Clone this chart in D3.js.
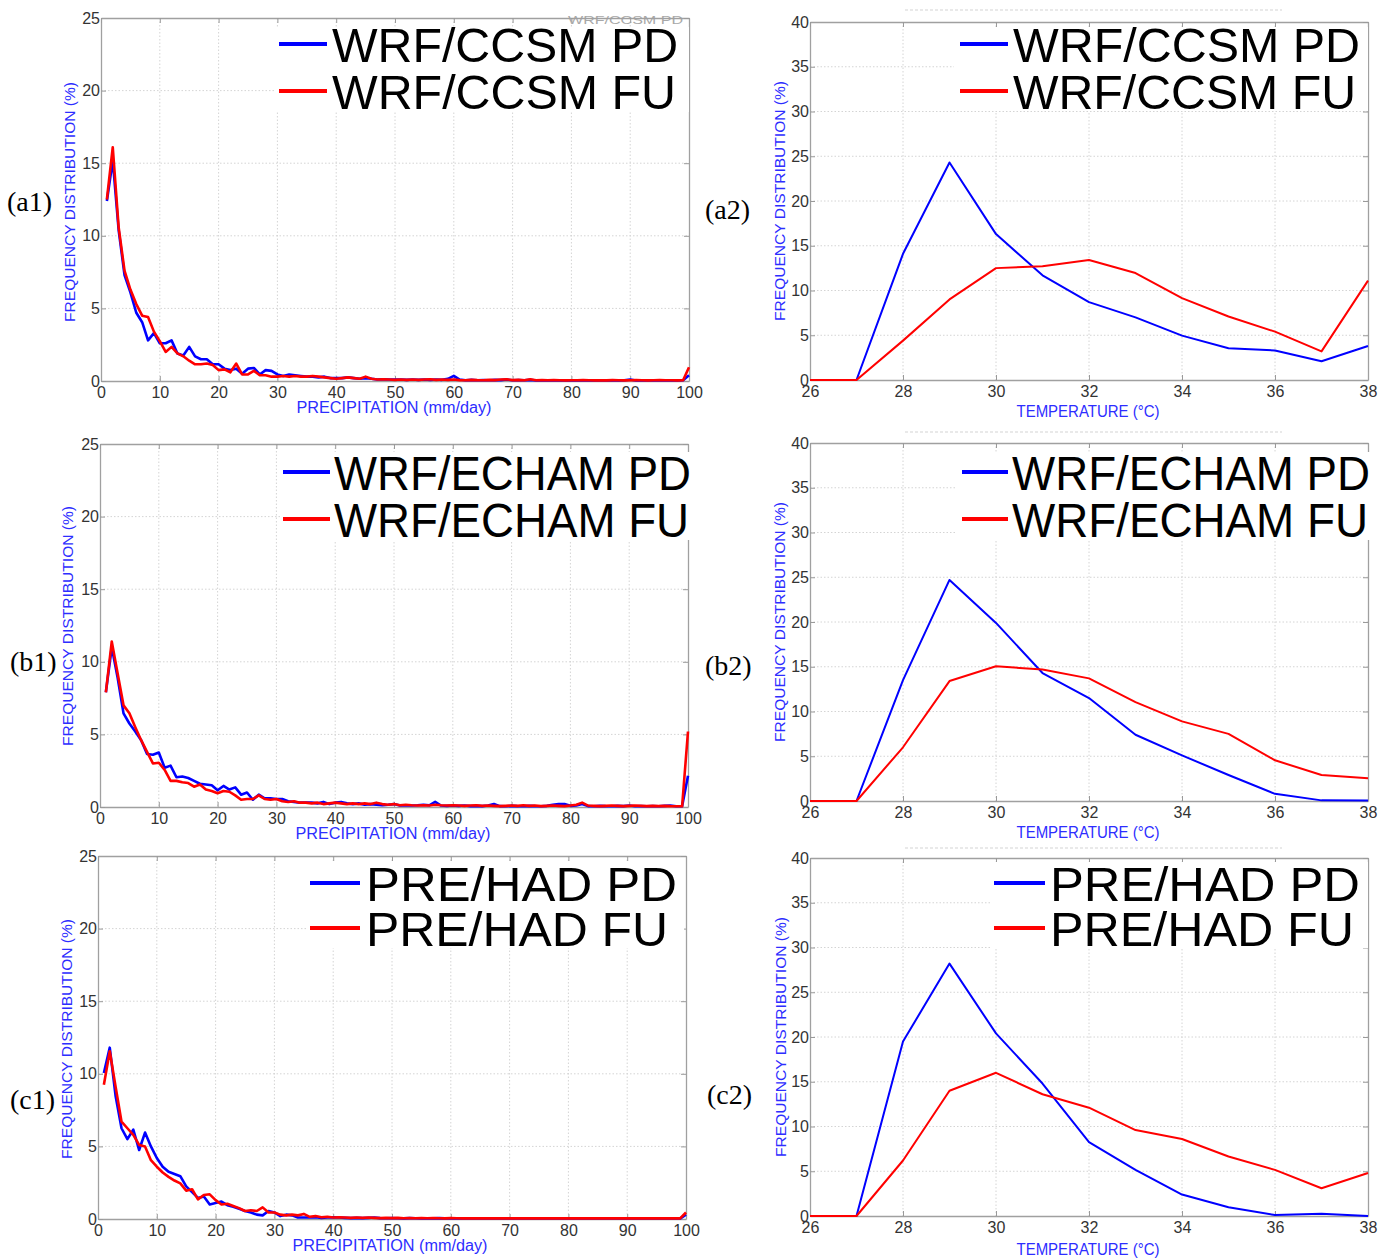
<!DOCTYPE html>
<html>
<head>
<meta charset="utf-8">
<script src="https://cdn.jsdelivr.net/npm/d3@7"></script>
<style>
  html, body { margin: 0; padding: 0; background: #ffffff; }
  svg { display: block; }
</style>
</head>
<body>
<svg id="fig" width="1394" height="1259"></svg>
<script>
// ---- categories ----
const precipBins = d3.range(1, 101);               // daily precipitation bins (mm/day)
const tempBins = [26, 27, 28, 29, 30, 31, 32, 33, 34, 35, 36, 37, 38]; // temperature bins (°C)
const precipTicks = [0, 10, 20, 30, 40, 50, 60, 70, 80, 90, 100];
const precipYTicks = [0, 5, 10, 15, 20, 25];
const tempTicks = [26, 28, 30, 32, 34, 36, 38];
const tempYTicks = [0, 5, 10, 15, 20, 25, 30, 35, 40];

// ---- WRF/CCSM precipitation frequency (%) ----
const ccsmPrecipPD = [12.4, 15.2, 10.4, 7.3, 6.1, 4.7, 4.05, 2.8, 3.3, 2.6, 2.6, 2.8, 1.9, 1.75, 2.35, 1.7, 1.5, 1.5, 1.15, 1.15, 0.85, 0.75, 0.85, 0.5, 0.85, 0.9, 0.45, 0.75, 0.7, 0.45, 0.35, 0.45, 0.4, 0.35, 0.3,
  0.30, 0.25, 0.30, 0.20, 0.20, 0.20, 0.25, 0.20, 0.15, 0.20,
  0.15, 0.10, 0.12, 0.10, 0.10, 0.10, 0.08, 0.10, 0.08, 0.10,
  0.08, 0.10, 0.08, 0.15, 0.35, 0.10, 0.05, 0.08, 0.05, 0.06,
  0.05, 0.08, 0.06, 0.10, 0.05, 0.06, 0.05, 0.08, 0.04, 0.05,
  0.04, 0.05, 0.04, 0.05, 0.04, 0.05, 0.04, 0.03, 0.05, 0.03,
  0.04, 0.03, 0.04, 0.05, 0.10, 0.03, 0.04, 0.03, 0.04, 0.05,
  0.03, 0.04, 0.03, 0.05, 0.40];
const ccsmPrecipFU = [12.5, 16.1, 10.6, 7.6, 6.3, 5.3, 4.5, 4.4, 3.4, 2.75, 2.0, 2.35, 1.9, 1.7, 1.4, 1.15, 1.15, 1.2, 1.1, 0.75, 0.8, 0.6, 1.2, 0.45, 0.45, 0.7, 0.4, 0.4, 0.3, 0.3, 0.35, 0.3, 0.35, 0.3, 0.3,
  0.35, 0.30, 0.25, 0.20, 0.15, 0.20, 0.25, 0.20, 0.15, 0.30,
  0.15, 0.10, 0.12, 0.10, 0.08, 0.10, 0.08, 0.10, 0.08, 0.10,
  0.12, 0.08, 0.10, 0.08, 0.10, 0.06, 0.05, 0.08, 0.06, 0.05,
  0.08, 0.06, 0.10, 0.12, 0.06, 0.08, 0.05, 0.12, 0.05, 0.06,
  0.05, 0.06, 0.05, 0.04, 0.05, 0.05, 0.06, 0.05, 0.04, 0.05,
  0.04, 0.06, 0.05, 0.04, 0.05, 0.06, 0.05, 0.04, 0.05, 0.06,
  0.05, 0.05, 0.04, 0.05, 0.95];

// ---- WRF/ECHAM precipitation frequency (%) ----
const echamPrecipPD = [7.9, 11.0, 8.9, 6.45, 5.75, 5.2, 4.6, 3.65, 3.6, 3.75, 2.7, 2.85, 2.05, 2.1, 2.0, 1.8, 1.6, 1.55, 1.5, 1.15, 1.45, 1.2, 1.35, 0.85, 1.0, 0.5, 0.85, 0.6, 0.6, 0.55, 0.55, 0.4, 0.35, 0.3, 0.3,
  0.30, 0.25, 0.35, 0.20, 0.30, 0.35, 0.25, 0.20, 0.25, 0.15,
  0.20, 0.15, 0.12, 0.15, 0.20, 0.10, 0.12, 0.10, 0.12, 0.15,
  0.12, 0.35, 0.10, 0.08, 0.10, 0.08, 0.10, 0.06, 0.08, 0.06,
  0.10, 0.20, 0.06, 0.05, 0.08, 0.06, 0.05, 0.08, 0.06, 0.05,
  0.08, 0.15, 0.20, 0.20, 0.08, 0.10, 0.20, 0.06, 0.05, 0.08,
  0.06, 0.05, 0.08, 0.06, 0.10, 0.05, 0.06, 0.05, 0.06, 0.05,
  0.08, 0.10, 0.05, 0.05, 2.15];
const echamPrecipFU = [7.9, 11.4, 9.2, 7.0, 6.45, 5.5, 4.6, 3.8, 3.0, 3.05, 2.55, 1.8, 1.8, 1.7, 1.65, 1.4, 1.55, 1.2, 1.1, 0.95, 1.1, 1.05, 0.8, 0.5, 0.55, 0.55, 0.8, 0.55, 0.5, 0.55, 0.4, 0.35, 0.4, 0.3, 0.3,
  0.25, 0.30, 0.20, 0.25, 0.30, 0.25, 0.20, 0.25, 0.20, 0.25,
  0.20, 0.30, 0.20, 0.15, 0.20, 0.12, 0.15, 0.12, 0.10, 0.12,
  0.10, 0.15, 0.12, 0.10, 0.12, 0.10, 0.08, 0.10, 0.12, 0.08,
  0.10, 0.08, 0.06, 0.08, 0.10, 0.08, 0.12, 0.08, 0.10, 0.06,
  0.08, 0.10, 0.08, 0.06, 0.10, 0.15, 0.30, 0.10, 0.08, 0.06,
  0.08, 0.10, 0.08, 0.06, 0.08, 0.10, 0.08, 0.06, 0.08, 0.06,
  0.08, 0.06, 0.05, 0.05, 5.20];

// ---- PRECIS/HadCM3 precipitation frequency (%) ----
const hadPrecipPD = [10.05, 11.8, 8.45, 6.25, 5.5, 6.15, 4.75, 5.95, 5.0, 4.2, 3.6, 3.25, 3.1, 2.95, 2.25, 1.85, 1.45, 1.55, 1.0, 1.1, 1.2, 0.95, 0.85, 0.7, 0.55, 0.45, 0.3, 0.25, 0.55, 0.45, 0.2, 0.3, 0.25, 0.1, 0.1,
  0.10, 0.12, 0.08, 0.10, 0.12, 0.10, 0.08, 0.06, 0.08, 0.06,
  0.08, 0.10, 0.06, 0.05, 0.06, 0.05, 0.04, 0.06, 0.05, 0.04,
  0.05, 0.04, 0.06, 0.04, 0.05, 0.04, 0.03, 0.04, 0.05, 0.03,
  0.04, 0.03, 0.05, 0.04, 0.03, 0.04, 0.03, 0.04, 0.03, 0.04,
  0.03, 0.04, 0.03, 0.04, 0.03, 0.04, 0.03, 0.03, 0.04, 0.03,
  0.03, 0.04, 0.03, 0.04, 0.03, 0.03, 0.04, 0.03, 0.03, 0.04,
  0.03, 0.03, 0.04, 0.03, 0.30];
const hadPrecipFU = [9.25, 11.55, 9.1, 6.7, 6.25, 5.8, 5.1, 5.0, 4.05, 3.6, 3.2, 2.9, 2.65, 2.45, 1.95, 2.05, 1.35, 1.65, 1.7, 1.3, 1.0, 1.05, 0.9, 0.75, 0.55, 0.6, 0.55, 0.8, 0.45, 0.45, 0.3, 0.25, 0.3, 0.25, 0.35,
  0.15, 0.20, 0.12, 0.15, 0.10, 0.12, 0.10, 0.08, 0.10, 0.08,
  0.10, 0.08, 0.06, 0.08, 0.06, 0.08, 0.05, 0.06, 0.05, 0.06,
  0.05, 0.06, 0.05, 0.04, 0.06, 0.05, 0.04, 0.05, 0.04, 0.05,
  0.04, 0.05, 0.04, 0.05, 0.04, 0.05, 0.04, 0.05, 0.04, 0.04,
  0.05, 0.04, 0.05, 0.04, 0.05, 0.04, 0.04, 0.05, 0.04, 0.04,
  0.05, 0.04, 0.04, 0.05, 0.04, 0.05, 0.04, 0.04, 0.05, 0.04,
  0.05, 0.04, 0.05, 0.04, 0.45];

// ---- temperature frequency (%) ----
const ccsmTempPD = [0, 0, 14.1, 24.3, 16.3, 11.7, 8.7, 7.0, 4.96, 3.55, 3.3, 2.1, 3.8];
const ccsmTempFU = [0, 0, 4.4, 9.0, 12.5, 12.7, 13.4, 11.95, 9.15, 7.1, 5.4, 3.2, 11.1];
const echamTempPD = [0, 0, 13.5, 24.7, 19.9, 14.3, 11.5, 7.4, 5.1, 2.9, 0.8, 0.07, 0.05];
const echamTempFU = [0, 0, 6.0, 13.4, 15.05, 14.7, 13.7, 11.05, 8.9, 7.5, 4.55, 2.9, 2.55];
const hadTempPD = [0, 0, 19.5, 28.2, 20.4, 14.8, 8.25, 5.15, 2.4, 0.97, 0.1, 0.25, 0];
const hadTempFU = [0, 0, 6.2, 14.0, 16.0, 13.6, 12.1, 9.6, 8.6, 6.65, 5.15, 3.1, 4.8];

// ---- legend / panel text ----
const legendNames = {
  ccsm: ["WRF/CCSM PD", "WRF/CCSM FU"],
  echam: ["WRF/ECHAM PD", "WRF/ECHAM FU"],
  had: ["PRE/HAD PD", "PRE/HAD FU"]
};
const yTitle = "FREQUENCY DISTRIBUTION (%)";
const precipTitle = "PRECIPITATION (mm/day)";
const tempTitle = "TEMPERATURE (°C)";

const BLUE = "#0000ff", RED = "#ff0000", AXIS_BLUE = "#2d2dff";
const svg = d3.select("#fig");

function drawPanel(p) {
  const g = svg.append("g");
  const x = d3.scaleLinear().domain(p.xDomain).range([p.left, p.right]);
  const y = d3.scaleLinear().domain(p.yDomain).range([p.bottom, p.top]);

  // grid
  const grid = g.append("g").attr("stroke", "#d4d4d4").attr("stroke-width", 1)
    .attr("stroke-dasharray", "1.5,2");
  grid.selectAll("line.v").data(p.xTicks.slice(1, -1)).join("line")
    .attr("x1", d => x(d)).attr("x2", d => x(d)).attr("y1", p.top).attr("y2", p.bottom);
  grid.selectAll("line.h").data(p.yTicks.slice(1, -1)).join("line")
    .attr("x1", p.left).attr("x2", p.right).attr("y1", d => y(d)).attr("y2", d => y(d));

  // axes with inward ticks
  const axStyle = sel => {
    sel.selectAll("path").attr("stroke", "#9a9a9a").attr("stroke-width", 1.3);
    sel.selectAll("line").attr("stroke", "#9a9a9a");
    sel.selectAll("text").attr("fill", "#333").attr("font-family", "Liberation Sans, Arial, sans-serif")
      .attr("font-size", 16);
  };
  g.append("g").attr("transform", `translate(0,${p.bottom})`)
    .call(d3.axisBottom(x).tickValues(p.xTicks).tickSize(-5).tickPadding(5).tickSizeOuter(0))
    .call(axStyle)
    .call(s => s.selectAll("text").attr("dy", "0.72em"));
  g.append("g").attr("transform", `translate(${p.left},0)`)
    .call(d3.axisLeft(y).tickValues(p.yTicks).tickSize(-5).tickPadding(1).tickSizeOuter(0))
    .call(axStyle);
  g.append("g").attr("transform", `translate(0,${p.top})`)
    .call(d3.axisTop(x).tickValues(p.xTicks).tickSize(-5).tickFormat("").tickSizeOuter(0))
    .call(axStyle);
  g.append("g").attr("transform", `translate(${p.right},0)`)
    .call(d3.axisRight(y).tickValues(p.yTicks).tickSize(-5).tickFormat("").tickSizeOuter(0))
    .call(axStyle);
  g.selectAll(".domain").attr("stroke", "#a0a0a0");

  // series
  const line = d3.line().x(d => x(d[0])).y(d => y(d[1]));
  p.series.forEach(s => {
    g.append("path")
      .datum(p.bins.map((b, i) => [b, s.values[i]]))
      .attr("d", line).attr("fill", "none")
      .attr("stroke", s.color).attr("stroke-width", p.lineWidth)
      .attr("stroke-linejoin", "round");
  });

  // axis titles
  g.append("text")
    .attr("transform", `translate(${p.yTitleX},${p.yTitleY}) rotate(-90)`)
    .attr("text-anchor", "middle").attr("dominant-baseline", "middle")
    .attr("font-family", "Liberation Sans, Arial, sans-serif").attr("font-size", 15)
    .attr("textLength", 240).attr("lengthAdjust", "spacingAndGlyphs")
    .attr("fill", AXIS_BLUE).text(yTitle);
  g.append("text")
    .attr("x", p.xTitleX).attr("y", p.xTitleY)
    .attr("text-anchor", "middle")
    .attr("font-family", "Liberation Sans, Arial, sans-serif").attr("font-size", 16)
    .attr("textLength", p.xTitleLen).attr("lengthAdjust", "spacingAndGlyphs")
    .attr("fill", AXIS_BLUE).text(p.xTitle);

  // legend
  const L = p.legend;
  g.append("rect").attr("x", L.boxX).attr("y", L.boxY).attr("width", L.boxW).attr("height", L.boxH)
    .attr("fill", "#ffffff").attr("stroke", "none");
  L.names.forEach((name, i) => {
    const ly = L.y[i];
    g.append("line").attr("x1", L.lineX[0]).attr("x2", L.lineX[1]).attr("y1", ly).attr("y2", ly)
      .attr("stroke", i === 0 ? BLUE : RED).attr("stroke-width", 4);
    g.append("text").attr("x", L.textX).attr("y", ly + 18)
      .attr("font-family", "Liberation Sans, Arial, sans-serif").attr("font-size", 48)
      .attr("textLength", L.textLen[i]).attr("lengthAdjust", "spacingAndGlyphs")
      .attr("fill", "#000").text(name);
  });

  // panel tag
  svg.append("text").attr("x", p.tagX).attr("y", p.tagY)
    .attr("font-family", "Liberation Serif, Times New Roman, serif").attr("font-size", 28)
    .attr("fill", "#000").text(p.tag);
}

const precipBase = {
  bins: precipBins, xDomain: [0, 100], yDomain: [0, 25],
  xTicks: precipTicks, yTicks: precipYTicks, lineWidth: 2.6,
  xTitle: precipTitle, xTitleLen: 195
};
const tempBase = {
  bins: tempBins, xDomain: [26, 38], yDomain: [0, 40],
  xTicks: tempTicks, yTicks: tempYTicks, lineWidth: 2,
  xTitle: tempTitle, xTitleLen: 143
};

// faint leftover title rules above the temperature panels
[10, 432, 848].forEach(yy => {
  svg.append("line").attr("x1", 905).attr("x2", 1282).attr("y1", yy).attr("y2", yy)
    .attr("stroke", "#e2e2e2").attr("stroke-width", 1.5).attr("stroke-dasharray", "3,2");
});

// small stray legend label behind the first legend
svg.append("text").attr("x", 568).attr("y", 24)
  .attr("font-family", "Liberation Sans, Arial, sans-serif").attr("font-size", 10)
  .attr("textLength", 115).attr("lengthAdjust", "spacingAndGlyphs")
  .attr("fill", "#a8a8a8").text("WRF/CCSM PD");

drawPanel(Object.assign({}, precipBase, {
  left: 101, right: 689, top: 18, bottom: 381,
  series: [{ values: ccsmPrecipPD, color: BLUE }, { values: ccsmPrecipFU, color: RED }],
  yTitleX: 71, yTitleY: 202, xTitleX: 394, xTitleY: 413,
  legend: { names: legendNames.ccsm, boxX: 276, boxY: 27, boxW: 413, boxH: 85,
    lineX: [279, 327], y: [44, 91], textX: 332, textLen: [346, 344] },
  tag: "(a1)", tagX: 7, tagY: 211
}));
drawPanel(Object.assign({}, tempBase, {
  left: 810, right: 1368, top: 22, bottom: 380,
  series: [{ values: ccsmTempPD, color: BLUE }, { values: ccsmTempFU, color: RED }],
  yTitleX: 781, yTitleY: 201, xTitleX: 1088, xTitleY: 417,
  legend: { names: legendNames.ccsm, boxX: 954, boxY: 27, boxW: 414, boxH: 84,
    lineX: [960, 1008], y: [44, 91], textX: 1013, textLen: [347, 343] },
  tag: "(a2)", tagX: 705, tagY: 219
}));
drawPanel(Object.assign({}, precipBase, {
  left: 100, right: 688, top: 444, bottom: 807,
  series: [{ values: echamPrecipPD, color: BLUE }, { values: echamPrecipFU, color: RED }],
  yTitleX: 69, yTitleY: 626, xTitleX: 393, xTitleY: 839,
  legend: { names: legendNames.echam, boxX: 280, boxY: 452, boxW: 410, boxH: 88,
    lineX: [283, 330], y: [472, 519], textX: 334, textLen: [357, 355] },
  tag: "(b1)", tagX: 10, tagY: 671
}));
drawPanel(Object.assign({}, tempBase, {
  left: 810, right: 1368, top: 443, bottom: 801,
  series: [{ values: echamTempPD, color: BLUE }, { values: echamTempFU, color: RED }],
  yTitleX: 781, yTitleY: 622, xTitleX: 1088, xTitleY: 838,
  legend: { names: legendNames.echam, boxX: 957, boxY: 452, boxW: 413, boxH: 88,
    lineX: [962, 1008], y: [472, 519], textX: 1012, textLen: [358, 356] },
  tag: "(b2)", tagX: 705, tagY: 675
}));
drawPanel(Object.assign({}, precipBase, {
  left: 98, right: 686, top: 856, bottom: 1219,
  series: [{ values: hadPrecipPD, color: BLUE }, { values: hadPrecipFU, color: RED }],
  yTitleX: 68, yTitleY: 1039, xTitleX: 390, xTitleY: 1251,
  legend: { names: legendNames.had, boxX: 306, boxY: 862, boxW: 378, boxH: 86,
    lineX: [310, 360], y: [883, 928], textX: 366, textLen: [311, 302] },
  tag: "(c1)", tagX: 10, tagY: 1109
}));
drawPanel(Object.assign({}, tempBase, {
  left: 810, right: 1368, top: 858, bottom: 1216,
  series: [{ values: hadTempPD, color: BLUE }, { values: hadTempFU, color: RED }],
  yTitleX: 782, yTitleY: 1037, xTitleX: 1088, xTitleY: 1255,
  legend: { names: legendNames.had, boxX: 990, boxY: 862, boxW: 378, boxH: 86,
    lineX: [994, 1045], y: [883, 928], textX: 1050, textLen: [310, 304] },
  tag: "(c2)", tagX: 707, tagY: 1104
}));
</script>
</body>
</html>
